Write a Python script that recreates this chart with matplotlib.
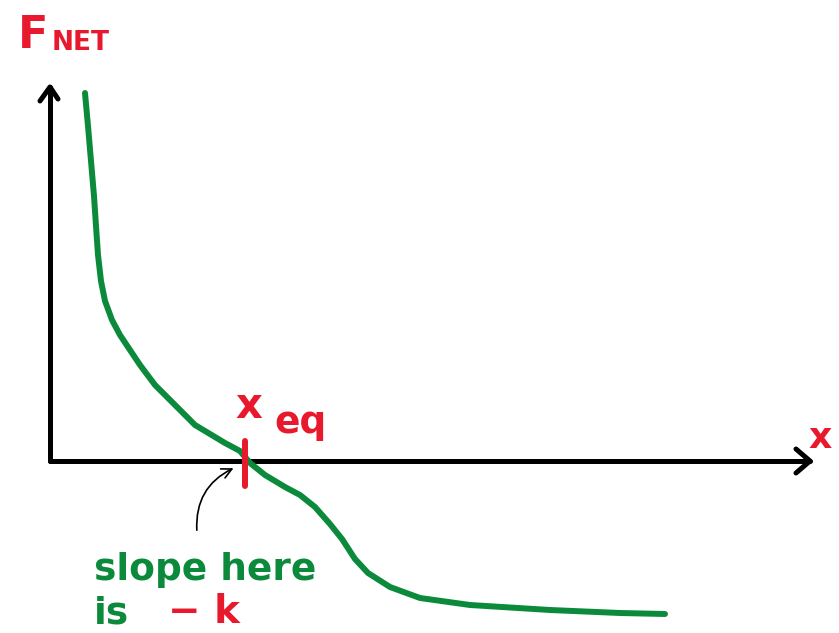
import numpy as np
import matplotlib
matplotlib.use("Agg")
import matplotlib.pyplot as plt

# sketch of net force vs. position (origin of the drawn axes at 0,0)
curve_x = [35, 38, 41, 44, 46, 48, 51, 55, 62, 70, 80, 90, 105, 125, 145, 160, 175, 190,
           200, 215, 235, 250, 265, 280, 292, 305, 318, 340, 370, 420, 500, 570, 615]
curve_y = [368, 335, 300, 265, 235, 206, 180, 160, 141, 126, 111, 96, 76, 56, 36, 27, 18, 10,
           -2, -14, -26, -34, -46, -63, -78, -98, -112, -126, -137, -144, -149, -152, -153]

x_eq = 195
x_axis_len = 760
y_axis_len = 374

green = '#0b8a3b'
red = '#e8192c'

fig = plt.figure(figsize=(8.39, 6.33), dpi=100)
ax0 = fig.add_axes([0, 0, 1, 1])
ax0.set_xlim(-50, 789)
ax0.set_ylim(-172, 461)
ax0.axis('off')

# axes
ax0.plot([0, x_axis_len], [0, 0], '-', color='k', lw=3.6, solid_capstyle='round')
ax0.plot([0, 0], [0, y_axis_len], '-', color='k', lw=3.6, solid_capstyle='round')
# arrow heads
ax0.plot([x_axis_len - 14, x_axis_len, x_axis_len - 14], [12, 0, -12], '-', color='k',
         lw=3.6, solid_capstyle='round', solid_joinstyle='round')
ax0.plot([-10, 0, 8], [y_axis_len - 14, y_axis_len, y_axis_len - 12], '-', color='k',
         lw=3.6, solid_capstyle='round', solid_joinstyle='round')

# the curve
ax0.plot(curve_x, curve_y, '-', color=green, lw=4.3, solid_capstyle='round',
         solid_joinstyle='round')

# x_eq tick
ax0.plot([x_eq, x_eq], [20, -25], '-', color=red, lw=4.3, solid_capstyle='round')

# labels
ax0.text(-32, 404, 'F', color=red, fontsize=32, fontweight='bold', ha='left', va='bottom')
ax0.text(2, 405, 'NET', color=red, fontsize=19, fontweight='bold', ha='left', va='bottom')
ax0.text(185, 34, 'x', color=red, fontsize=30, fontweight='bold', ha='left', va='bottom')
ax0.text(224, 20, 'eq', color=red, fontsize=27, fontweight='bold', ha='left', va='bottom')
ax0.text(758, 6, 'x', color=red, fontsize=26, fontweight='bold', ha='left', va='bottom')

# note about the slope
ax0.annotate('', xy=(186, -6), xytext=(147, -72),
             arrowprops=dict(arrowstyle='->', color='k', lw=1.2,
                             connectionstyle='arc3,rad=-0.35', mutation_scale=18))
ax0.text(44, -127, 'slope here', color=green, fontsize=27, fontweight='bold',
         ha='left', va='bottom')
ax0.text(44, -170, 'is', color=green, fontsize=27, fontweight='bold', ha='left', va='bottom')
ax0.text(118, -170, '\u2212 k', color=red, fontsize=28, fontweight='bold', ha='left', va='bottom')

fig.savefig('out.png', dpi=100)
